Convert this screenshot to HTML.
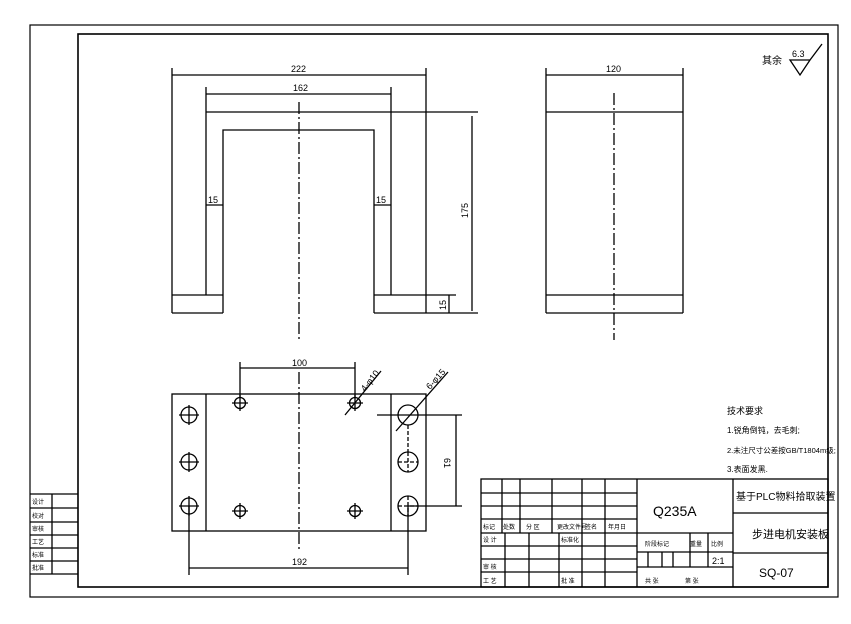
<!DOCTYPE html>
<html><head><meta charset="utf-8"><style>
html,body{margin:0;padding:0;background:#fff;}
svg{display:block;}
text{font-family:"Liberation Sans","Noto Sans CJK SC",sans-serif;fill:#000;}
</style></head><body>
<svg width="851" height="624" viewBox="0 0 851 624" xmlns="http://www.w3.org/2000/svg">
<rect width="851" height="624" fill="#fff"/>
<g stroke="#000" fill="none" stroke-width="1.2">
<rect x="30" y="25" width="808" height="572"/>
<rect x="78" y="34" width="750" height="553" stroke-width="1.6"/>
</g>
<g stroke="#000" fill="none" stroke-width="1.3">
<line x1="172" y1="68" x2="172" y2="313"/>
<line x1="426" y1="68" x2="426" y2="313"/>
<line x1="206" y1="87" x2="206" y2="295"/>
<line x1="391" y1="87" x2="391" y2="295"/>
<line x1="206" y1="112" x2="478" y2="112"/>
<polyline points="223,313 223,130 374,130 374,313"/>
<line x1="172" y1="295" x2="223" y2="295"/>
<line x1="374" y1="295" x2="456" y2="295"/>
<line x1="172" y1="313" x2="223" y2="313"/>
<line x1="374" y1="313" x2="478" y2="313"/>
<line x1="172" y1="75" x2="426" y2="75"/>
<line x1="206" y1="94" x2="391" y2="94"/>
<line x1="472" y1="116" x2="472" y2="311"/>
<line x1="449" y1="295" x2="449" y2="313"/>
<line x1="206" y1="205" x2="223" y2="205"/>
<line x1="374" y1="205" x2="391" y2="205"/>
<line x1="299" y1="102" x2="299" y2="340" stroke-dasharray="12,3,2,3"/>
<line x1="546" y1="68" x2="546" y2="313"/>
<line x1="683" y1="68" x2="683" y2="313"/>
<line x1="546" y1="75" x2="683" y2="75"/>
<line x1="546" y1="112" x2="683" y2="112"/>
<line x1="546" y1="295" x2="683" y2="295"/>
<line x1="546" y1="313" x2="683" y2="313"/>
<line x1="614" y1="93" x2="614" y2="340" stroke-dasharray="12,3,2,3"/>
<rect x="172" y="394" width="254" height="137"/>
<line x1="206" y1="394" x2="206" y2="531"/>
<line x1="391" y1="394" x2="391" y2="531"/>
<line x1="299" y1="372" x2="299" y2="550" stroke-dasharray="12,3,2,3"/>
<line x1="240" y1="362" x2="240" y2="398"/>
<line x1="355" y1="362" x2="355" y2="398"/>
<line x1="240" y1="368" x2="355" y2="368"/>
<line x1="189" y1="506" x2="189" y2="575"/>
<line x1="408" y1="506" x2="408" y2="575"/>
<line x1="189" y1="568" x2="408" y2="568"/>
<line x1="377" y1="415" x2="462" y2="415"/>
<line x1="408" y1="506" x2="462" y2="506"/>
<line x1="456" y1="415" x2="456" y2="506"/>
<line x1="345" y1="415" x2="381" y2="371"/>
<line x1="396" y1="431" x2="448" y2="372"/>
<g>
<circle cx="189" cy="415" r="8"/><circle cx="189" cy="462" r="8"/><circle cx="189" cy="506" r="8"/>
<path d="M179 415h20M189 405v20M179 462h20M189 452v20M179 506h20M189 496v20"/>
<circle cx="240" cy="403" r="5.5"/><circle cx="355" cy="403" r="5.5"/><circle cx="240" cy="511" r="5.5"/><circle cx="355" cy="511" r="5.5"/>
<path d="M232 403h16M240 395v16M347 403h16M355 395v16M232 511h16M240 503v16M347 511h16M355 503v16"/>
<circle cx="408" cy="415" r="10"/><circle cx="408" cy="462" r="10"/><circle cx="408" cy="506" r="10"/>
<path d="M398 462h20M408 452v20M398 506h20M408 496v20M408 425v27" stroke-dasharray="4,2"/>
</g>
<line x1="30" y1="494" x2="78" y2="494"/>
<line x1="30" y1="508" x2="78" y2="508"/>
<line x1="30" y1="522" x2="78" y2="522"/>
<line x1="30" y1="535" x2="78" y2="535"/>
<line x1="30" y1="548" x2="78" y2="548"/>
<line x1="30" y1="561" x2="78" y2="561"/>
<line x1="30" y1="574" x2="78" y2="574"/>
<line x1="52" y1="494" x2="52" y2="574"/>
<rect x="481" y="479" width="347" height="108"/>
<line x1="481" y1="493" x2="637" y2="493"/>
<line x1="481" y1="506" x2="637" y2="506"/>
<line x1="481" y1="519" x2="637" y2="519"/>
<line x1="481" y1="533" x2="733" y2="533"/>
<line x1="481" y1="546" x2="637" y2="546"/>
<line x1="481" y1="559" x2="637" y2="559"/>
<line x1="481" y1="572" x2="637" y2="572"/>
<path d="M502 479v54M520 479v54M552 479v54M582 479v108M605 479v108M637 479v108M733 479v108"/>
<path d="M505 533v54M529 533v54M559 533v54"/>
<line x1="637" y1="552" x2="733" y2="552"/>
<line x1="637" y1="567" x2="733" y2="567"/>
<path d="M690 533v34M708 533v34M648 552v15M662 552v15M673 552v15"/>
<line x1="733" y1="513" x2="828" y2="513"/>
<line x1="733" y1="553" x2="828" y2="553"/>
<path d="M790 60h20l-10 15z M810 60l12-16"/>
</g>
<g font-size="9">
<text x="291" y="72">222</text>
<text x="293" y="91">162</text>
<text x="208" y="203">15</text>
<text x="376" y="203">15</text>
<text x="468" y="218" transform="rotate(-90 468 218)">175</text>
<text x="446" y="310" transform="rotate(-90 446 310)">15</text>
<text x="606" y="72">120</text>
<text x="292" y="366">100</text>
<text x="292" y="565">192</text>
<text x="452" y="466" transform="rotate(90 452 458)">61</text>
<text x="365" y="392" transform="rotate(-52 365 392)">4-φ10</text>
<text x="430" y="390" transform="rotate(-48 430 390)">6-φ15</text>
<text x="792" y="57" font-size="9">6.3</text>
<text x="762" y="64" font-size="10">其余</text>
<text x="727" y="414" font-size="9">技术要求</text>
<text x="727" y="433" font-size="8">1.锐角倒钝，去毛刺;</text>
<text x="727" y="453" font-size="7.5">2.未注尺寸公差按GB/T1804m级;</text>
<text x="727" y="472" font-size="8">3.表面发黑.</text>
<text x="653" y="516" font-size="14">Q235A</text>
<text x="736" y="500" font-size="10">基于PLC物料拾取装置</text>
<text x="752" y="538" font-size="11">步进电机安装板</text>
<text x="759" y="577" font-size="12">SQ-07</text>
<text x="712" y="564" font-size="9">2:1</text>
<g font-size="6">
<text x="483" y="529">标记</text><text x="503" y="529">处数</text><text x="526" y="529">分 区</text><text x="557" y="529">更改文件号</text><text x="585" y="529">签名</text><text x="608" y="529">年月日</text>
<text x="483" y="542">设 计</text><text x="561" y="542">标准化</text>
<text x="483" y="569">审 核</text>
<text x="483" y="583">工 艺</text><text x="561" y="583">批 准</text>
<text x="645" y="546">阶段标记</text><text x="690" y="546">重量</text><text x="711" y="546">比例</text>
<text x="645" y="583">共    张</text><text x="685" y="583">第    张</text>
<text x="32" y="504">设计</text><text x="32" y="518">校对</text><text x="32" y="531">审核</text><text x="32" y="544">工艺</text><text x="32" y="557">标准</text><text x="32" y="570">批准</text>
</g>
</g>
</svg>
</body></html>
